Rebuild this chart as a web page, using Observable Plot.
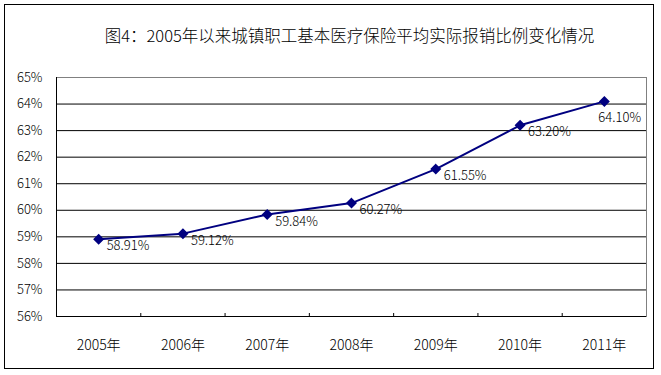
<!DOCTYPE html>
<html><head><meta charset="utf-8">
<script src="https://cdn.jsdelivr.net/npm/d3@7"></script>
<script src="https://cdn.jsdelivr.net/npm/@observablehq/plot@0.6"></script>
<style>
body{margin:0;background:#fff;}
#wrap{position:relative;width:661px;height:375px;overflow:hidden;background:#fff;}
#border{position:absolute;left:4px;top:4px;width:648px;height:363px;border:1.5px solid #000;pointer-events:none;}
</style></head><body>
<div id="wrap"><div id="border"></div></div>
<script>
const title = "图4：2005年以来城镇职工基本医疗保险平均实际报销比例变化情况";
const years = ["2005年", "2006年", "2007年", "2008年", "2009年", "2010年", "2011年"];
const rates = [58.91, 59.12, 59.84, 60.27, 61.55, 63.20, 64.10];
const yTicks = [56, 57, 58, 59, 60, 61, 62, 63, 64, 65];

const data = years.map((y, i) => ({i, year: y, v: rates[i], label: rates[i].toFixed(2) + "%"}));
const last = data.length - 1;
const navy = "#000080";
const font = "'Noto Sans CJK SC', 'Noto Sans', sans-serif";

const chart = Plot.plot({
  width: 661, height: 375,
  marginLeft: 56, marginRight: 15, marginTop: 77, marginBottom: 59,
  style: {fontFamily: font, background: "transparent", color: "#000", fontWeight: 300},
  x: {type: "linear", domain: [-0.5, years.length - 0.5], axis: null},
  y: {domain: [yTicks[0], yTicks[yTicks.length - 1]], axis: null},
  marks: [
    Plot.frame({stroke: "#808080"}),
    Plot.ruleY(yTicks.slice(0, -1), {stroke: "#000"}),
    Plot.ruleX([-0.5], {stroke: "#000"}),
    Plot.axisY({ticks: yTicks, tickSize: 0, tickPadding: 14, tickFormat: d => d + "%", fontSize: 13, label: null, fill: "#000"}),
    Plot.axisX({ticks: d3.range(years.length), tickSize: 0, tickPadding: 24, tickFormat: i => years[i], fontSize: 14, label: null, fill: "#000"}),
    Plot.axisX({ticks: d3.range(0.5, years.length - 1, 1), tickSize: 3, dy: -3, tickFormat: () => "", stroke: "#000", label: null}),
    Plot.line(data, {x: "i", y: "v", stroke: navy, strokeWidth: 2}),
    Plot.dot(data, {x: "i", y: "v", symbol: "diamond2", r: 4, fill: navy, stroke: navy}),
    Plot.text(data.filter(d => d.i !== last), {x: "i", y: "v", text: "label", dx: 8, dy: 7, textAnchor: "start", fontSize: 13, letterSpacing: 1, fill: "#000"}),
    Plot.text(data.filter(d => d.i === last), {x: "i", y: "v", text: "label", dx: -6, dy: 16, textAnchor: "start", fontSize: 13, letterSpacing: 1, fill: "#000"}),
    Plot.text([title], {frameAnchor: "top", dy: -47, dx: -2, fontSize: 16.5, letterSpacing: 0.8, fill: "#000"})
  ]
});
document.getElementById("wrap").prepend(chart);
</script>
</body></html>
